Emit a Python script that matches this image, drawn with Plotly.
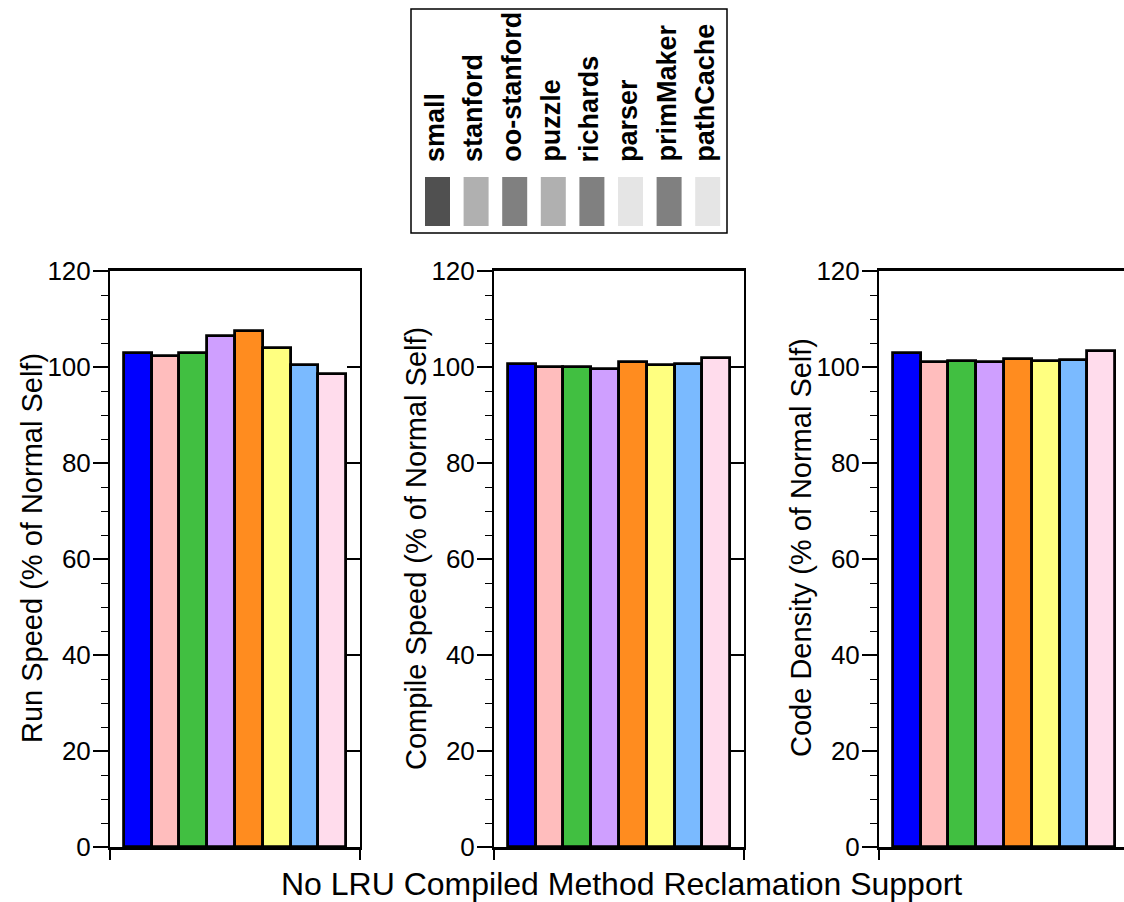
import plotly.graph_objects as go

benchmarks = ["small", "stanford", "oo-stanford", "puzzle", "richards", "parser", "primMaker", "pathCache"]
bar_colors = ["#0000ff", "#ffbdbd", "#41bf41", "#cf9fff", "#ff8c1f", "#ffff80", "#7abaff", "#ffdcec"]
legend_greys = ["#505050", "#b0b0b0", "#808080", "#b0b0b0", "#808080", "#e5e5e5", "#808080", "#e5e5e5"]

run_speed = [103.0, 102.2, 102.9, 106.5, 107.6, 104.0, 100.4, 98.6]
compile_speed = [100.6, 100.0, 100.1, 99.6, 101.1, 100.4, 100.7, 101.9]
code_density = [102.9, 101.1, 101.25, 101.05, 101.7, 101.3, 101.5, 103.4]

panel_titles = ["Run Speed (% of Normal Self)", "Compile Speed (% of Normal Self)", "Code Density (% of Normal Self)"]
x_title = "No LRU Compiled Method Reclamation Support"
y_ticks = [0, 20, 40, 60, 80, 100, 120]

W, H = 1124, 902
FONT = "Liberation Sans, Arial, Helvetica, sans-serif"

panels = [run_speed, compile_speed, code_density]
# pixel layout of plot areas
x_left_px = [110, 494, 879]
panel_w_px = 250
y_top_px, y_bot_px = 271, 847
y_dom = [1 - y_bot_px / H, 1 - y_top_px / H]

fig = go.Figure()
xpos = list(range(len(benchmarks)))

for i, vals in enumerate(panels):
    n = i + 1
    xa = "x" if n == 1 else f"x{n}"
    ya = "y" if n == 1 else f"y{n}"
    fig.add_trace(go.Bar(
        x=xpos, y=vals, width=1.0,
        marker=dict(color=bar_colors, line=dict(color="black", width=2.8)),
        xaxis=xa, yaxis=ya, showlegend=False, hoverinfo="y",
    ))

    x0 = x_left_px[i] / W
    x1 = min((x_left_px[i] + panel_w_px) / W, 1.0)
    units_per_px = 9.0 / panel_w_px
    vis_w = (x1 * W) - x_left_px[i]
    xr = [-1, -1 + vis_w * units_per_px]
    end_ticks = [-1, 8] if i < 2 else [-1]

    xkey = "xaxis" if n == 1 else f"xaxis{n}"
    ykey = "yaxis" if n == 1 else f"yaxis{n}"
    fig.update_layout(**{
        xkey: dict(domain=[x0, x1], range=xr, anchor=ya, showgrid=False, zeroline=False,
                   showline=True, linecolor="black", linewidth=2.5, mirror=True,
                   ticks="outside", tickvals=end_ticks, ticklen=10, tickwidth=1.5,
                   tickcolor="black", showticklabels=False, fixedrange=True,
                   automargin=False),
        ykey: dict(domain=y_dom, range=[0, 120], anchor=xa, showgrid=False, zeroline=False,
                   showline=True, linecolor="black", linewidth=2, mirror=False,
                   ticks="outside", tickvals=y_ticks, ticklen=15, tickwidth=1.5,
                   tickcolor="black", ticklabelstandoff=-3,
                   minor=dict(ticks="outside", dtick=5, tick0=0, ticklen=7, tickwidth=1.2,
                              tickcolor="black", showgrid=False),
                   tickfont=dict(family=FONT, size=26, color="black"), fixedrange=True,
                   automargin=False),
    })
    if i < 2:
        # right-hand axis with inward major ticks
        rn = n + 3
        rkey = f"yaxis{rn}"
        fig.add_trace(go.Scatter(x=[None], y=[None], xaxis=xa, yaxis=f"y{rn}",
                                 showlegend=False, hoverinfo="skip"))
        fig.update_layout(**{
            rkey: dict(overlaying=ya, side="right", anchor=xa, range=[0, 120],
                       showgrid=False, zeroline=False, showline=True, linecolor="black",
                       linewidth=2, ticks="inside", tickvals=y_ticks, ticklen=13,
                       tickwidth=1.5, tickcolor="black", showticklabels=False,
                       fixedrange=True, automargin=False)
        })
    # y-axis title
    fig.add_annotation(text=panel_titles[i], textangle=-90, showarrow=False,
                       xref="paper", yref="paper",
                       x=(x_left_px[i] - 78) / W, y=1 - 548 / H,
                       xanchor="center", yanchor="middle",
                       font=dict(family=FONT, size=29, color="black"))

fig.add_annotation(text=x_title, showarrow=False, xref="paper", yref="paper",
                   x=621 / W, y=1 - 884 / H, xanchor="center", yanchor="middle",
                   font=dict(family=FONT, size=32, color="black"))

# legend box
shapes = [dict(type="rect", xref="paper", yref="paper",
               x0=411 / W, x1=727 / W, y0=1 - 233 / H, y1=1 - 9 / H,
               line=dict(color="black", width=1.5), fillcolor="white", layer="above")]
sw_x0 = 425.0
sw_step = 38.6
for k, name in enumerate(benchmarks):
    sx = sw_x0 + k * sw_step
    shapes.append(dict(type="rect", xref="paper", yref="paper",
                       x0=sx / W, x1=(sx + 25) / W, y0=1 - 226 / H, y1=1 - 177 / H,
                       line=dict(width=0), fillcolor=legend_greys[k], layer="above"))
    fig.add_annotation(text="<b>" + name + "</b>", textangle=-90, showarrow=False,
                       xref="paper", yref="paper",
                       x=(sx + 12.5 - 3) / W, y=1 - 164 / H,
                       xanchor="center", yanchor="bottom",
                       font=dict(family=FONT, size=27, color="black"))

fig.update_layout(template="none", width=W, height=H, margin=dict(l=0, r=0, t=0, b=0, pad=0),
                  paper_bgcolor="white", plot_bgcolor="white", shapes=shapes,
                  bargap=0, showlegend=False)

fig.write_html("out.html")
